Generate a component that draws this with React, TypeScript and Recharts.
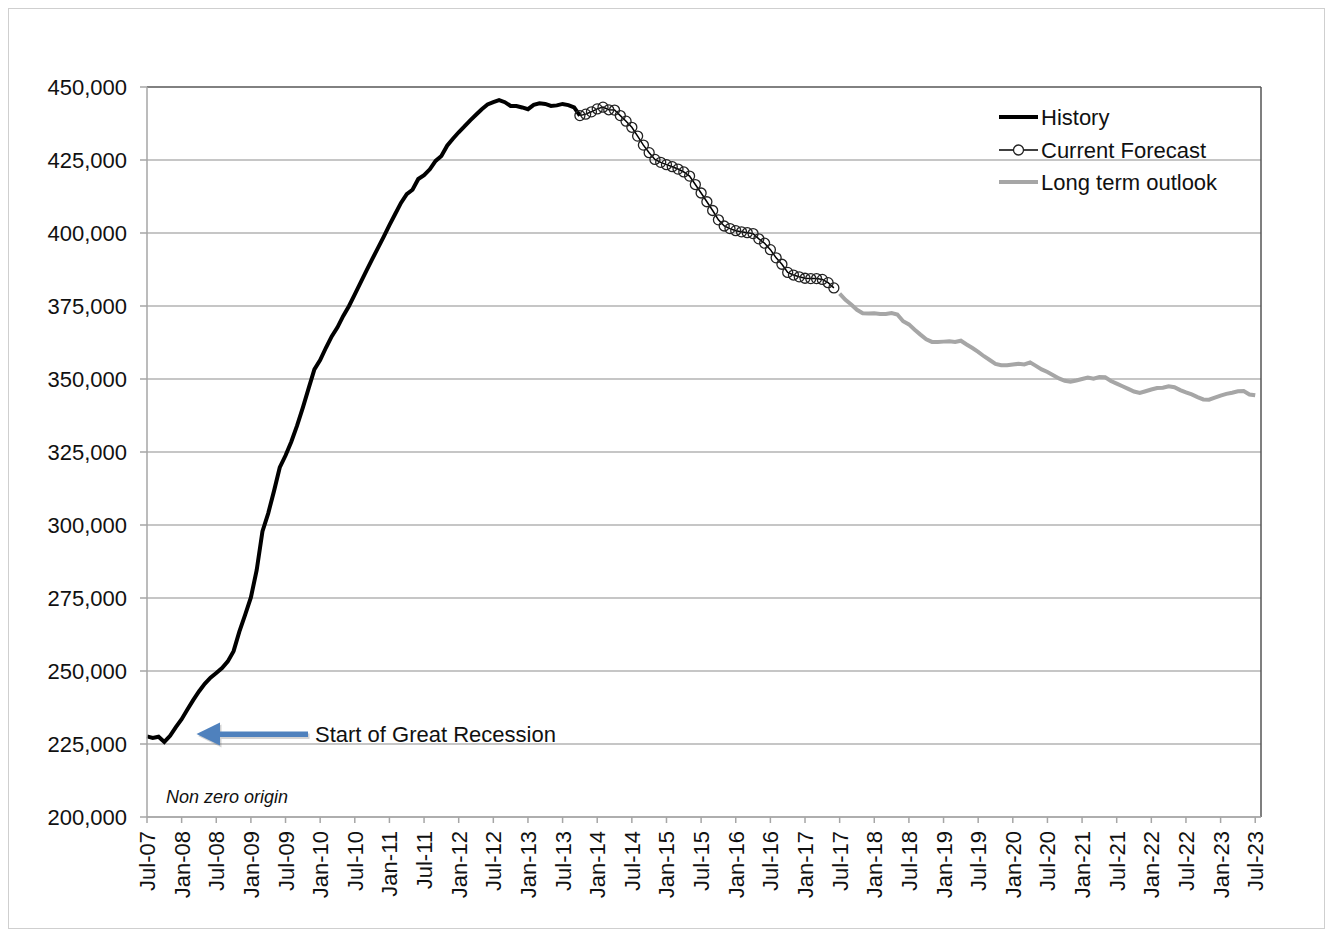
import React from 'react'
import { LineChart, Line, XAxis, YAxis, CartesianGrid, Legend, ReferenceLine } from 'recharts'

// month index 0 = Jul-07, one step per month
const tickLabels = [
  'Jul-07', 'Jan-08', 'Jul-08', 'Jan-09', 'Jul-09', 'Jan-10', 'Jul-10', 'Jan-11', 'Jul-11',
  'Jan-12', 'Jul-12', 'Jan-13', 'Jul-13', 'Jan-14', 'Jul-14', 'Jan-15', 'Jul-15', 'Jan-16',
  'Jul-16', 'Jan-17', 'Jul-17', 'Jan-18', 'Jul-18', 'Jan-19', 'Jul-19', 'Jan-20', 'Jul-20',
  'Jan-21', 'Jul-21', 'Jan-22', 'Jul-22', 'Jan-23', 'Jul-23',
]
const yTicks = [200000, 225000, 250000, 275000, 300000, 325000, 350000, 375000, 400000, 425000, 450000]

const historyStart = 0
const historyValues = [
  227600, 227100, 227500, 225700, 227800, 230800, 233500, 236800, 240000, 243000,
  245600, 247700, 249300, 251000, 253300, 256800, 263500, 269200, 275200, 284500,
  297800, 304000, 311600, 319700, 323800, 328500, 334000, 340200, 346800, 353300,
  356500, 360700, 364600, 367700, 371600, 375000, 379000, 383000, 387000, 391000,
  394800, 398700, 402700, 406500, 410300, 413300, 414800, 418500, 419800, 421800,
  424700, 426400, 429900, 432300, 434500, 436500, 438600, 440500, 442400, 444000,
  444800, 445500, 444800, 443500, 443500, 443000, 442400, 443900, 444400, 444200,
  443500, 443700, 444200, 443800, 443000, 440200,
]

const forecastStart = 75
const forecastValues = [
  440200, 440700, 441500, 442500, 443100, 442200, 442100, 440200, 438300, 436200,
  433200, 430100, 427500, 425200, 424200, 423400, 422700, 421900, 420900, 419500,
  416600, 413700, 410700, 407700, 404500, 402400, 401500, 400800, 400400, 400100,
  399800, 398000, 396500, 394300, 391500, 389300, 386500, 385600, 385000, 384500,
  384400, 384400, 384100, 383000, 381200,
]

const outlookStart = 120
const outlookValues = [
  379200, 377100, 375500, 373700, 372500, 372400, 372500, 372300, 372300, 372600,
  372100, 369800, 368700, 366900, 365200, 363600, 362700, 362700, 362800, 362900,
  362700, 363100, 361800, 360600, 359300, 357800, 356500, 355200, 354700, 354700,
  355000, 355200, 355000, 355700, 354500, 353300, 352400, 351300, 350200, 349400,
  349100, 349500, 350000, 350500, 350100, 350700, 350600, 349300, 348400, 347500,
  346600, 345700, 345200, 345800, 346400, 346900, 347000, 347500, 347200, 346200,
  345400, 344700, 343800, 343000, 342900, 343600, 344300, 344900, 345300, 345800,
  345900, 344700, 344400,
]

const totalMonths = 193

const pick = (arr: number[], start: number, i: number) =>
  i >= start && i < start + arr.length ? arr[i - start] : null

const data = Array.from({ length: totalMonths }, (_, i) => ({
  m: i,
  history: pick(historyValues, historyStart, i),
  forecast: pick(forecastValues, forecastStart, i),
  outlook: pick(outlookValues, outlookStart, i),
}))

const FONT = '"Liberation Sans", Arial, sans-serif'

const XTick = (props: any) => {
  const { x, y, payload } = props
  const label = tickLabels[Math.round(payload.value / 6)]
  return (
    <g transform={`translate(${x},${y + 6})`}>
      <text transform="rotate(-90)" x={0} y={8} textAnchor="end" fontSize={22} fill="#111" fontFamily={FONT}>
        {label}
      </text>
    </g>
  )
}

const renderLegend = () => (
  <svg width={260} height={100} style={{ fontFamily: FONT, display: 'block' }}>
    <line x1={10} y1={18} x2={49} y2={18} stroke="#000" strokeWidth={4} />
    <text x={52} y={18} dominantBaseline="central" fontSize={22} fill="#111">History</text>
    <line x1={10} y1={51} x2={49} y2={51} stroke="#000" strokeWidth={1.5} />
    <circle cx={29.5} cy={51} r={5} fill="#fff" stroke="#222" strokeWidth={1.3} />
    <text x={52} y={51} dominantBaseline="central" fontSize={22} fill="#111">Current Forecast</text>
    <line x1={10} y1={83} x2={49} y2={83} stroke="#a6a6a6" strokeWidth={4} />
    <text x={52} y={83} dominantBaseline="central" fontSize={22} fill="#111">Long term outlook</text>
  </svg>
)

const App = () => {
  return (
    <div style={{ position: 'relative', width: 1315, height: 919, border: '1px solid #cfcfcf', background: '#fff' }}>
      <LineChart
        width={1315}
        height={919}
        data={data}
        margin={{ top: 78, right: 63, left: 0, bottom: 41 }}
      >
        <CartesianGrid vertical={false} stroke="#b3b3b3" strokeWidth={1.5} />
        <XAxis
          dataKey="m"
          type="number"
          domain={[0, totalMonths]}
          ticks={tickLabels.map((_, k) => k * 6)}
          interval={0}
          height={70}
          tickSize={6}
          tickMargin={2}
          tick={<XTick />}
          axisLine={{ stroke: '#a6a6a6', strokeWidth: 1.5 }}
          tickLine={{ stroke: '#a6a6a6', strokeWidth: 1.5 }}
        />
        <YAxis
          type="number"
          domain={[200000, 450000]}
          ticks={yTicks}
          interval={0}
          width={138}
          tickSize={7}
          tickMargin={13}
          tickFormatter={(v: number) => v.toLocaleString('en-US')}
          tick={{ fontSize: 22, fill: '#111', fontFamily: FONT }}
          axisLine={{ stroke: '#a6a6a6', strokeWidth: 1.5 }}
          tickLine={{ stroke: '#a6a6a6', strokeWidth: 1.5 }}
        />
        <ReferenceLine y={450000} stroke="#6a6a6a" strokeWidth={1.5} />
        <ReferenceLine x={totalMonths} stroke="#555" strokeWidth={1.5} />
        <Legend
          layout="vertical"
          align="center"
          verticalAlign="middle"
          content={renderLegend}
          wrapperStyle={{ left: 980, top: 90, width: 260, height: 100 }}
        />
        <Line
          type="linear"
          dataKey="outlook"
          stroke="#a6a6a6"
          strokeWidth={4}
          dot={false}
          isAnimationActive={false}
        />
        <Line
          type="linear"
          dataKey="history"
          stroke="#000"
          strokeWidth={4}
          dot={false}
          isAnimationActive={false}
        />
        <Line
          type="linear"
          dataKey="forecast"
          stroke="#000"
          strokeWidth={1.5}
          dot={{ r: 5, fill: 'none', stroke: '#222', strokeWidth: 1.3 }}
          isAnimationActive={false}
        />
      </LineChart>
      <svg
        width={1315}
        height={919}
        style={{ position: 'absolute', left: 0, top: 0, pointerEvents: 'none', fontFamily: FONT }}
      >
        <g opacity={0.25} transform="translate(1.5,2)">
          <rect x={209} y={722.5} width={90} height={5.5} fill="#555" />
          <polygon points="187.5,725 211,713.5 211,736.5" fill="#555" />
        </g>
        <rect x={209} y={722.5} width={90} height={5.5} fill="#4f81bd" />
        <polygon points="187.5,725 211,713.5 211,736.5" fill="#4f81bd" />
        <text x={306} y={733} fontSize={22} fill="#111">Start of Great Recession</text>
        <text x={157} y={794} fontSize={18} fontStyle="italic" fill="#111">Non zero origin</text>
      </svg>
    </div>
  )
}

export default App
